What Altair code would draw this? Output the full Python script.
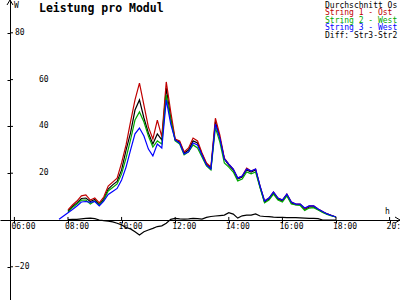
import altair as alt
import pandas as pd

times = ["07:40", "07:50",
         "08:00", "08:10", "08:20", "08:30", "08:40", "08:50",
         "09:00", "09:10", "09:20", "09:30", "09:40", "09:50",
         "10:00", "10:10", "10:20", "10:30", "10:40", "10:50",
         "11:00", "11:10", "11:20", "11:30", "11:40", "11:50",
         "12:00", "12:10", "12:20", "12:30", "12:40", "12:50",
         "13:00", "13:10", "13:20", "13:30", "13:40", "13:50",
         "14:00", "14:10", "14:20", "14:30", "14:40", "14:50",
         "15:00", "15:10", "15:20", "15:30", "15:40", "15:50",
         "16:00", "16:10", "16:20", "16:30", "16:40", "16:50",
         "17:00", "17:10", "17:20", "17:30", "17:40", "17:50",
         "18:00"]

avg = [None, None, 3.8, 5.8, 7.3, 9.2, 9.4, 7.9, 8.8, 6.6, 9.0, 13.2, 15.0, 16.5,
       21.4, 29.9, 37.2, 47.0, 51.3, 43.6, 37.2, 32.5, 36.8, 34.2, 56.4, 43.6,
       34.2, 33.3, 28.6, 29.9, 33.8, 32.9, 28.2, 23.9, 22.2, 42.0, 35.0, 26.1,
       23.5, 21.4, 17.5, 18.4, 21.4, 20.5, 21.4, 14.1, 7.7, 9.0, 11.5, 9.0,
       8.1, 10.7, 7.3, 6.6, 6.6, 4.5, 5.6, 5.6, 4.5, 3.4, 2.6, 1.9, 1.3]

string1 = [None, None, 4.3, 6.4, 8.1, 10.3, 10.7, 8.5, 9.4, 7.3, 9.8, 14.5, 16.2, 17.9,
           24.4, 32.1, 41.9, 51.3, 58.5, 49.1, 39.7, 34.6, 42.7, 35.6, 59.0, 46.2,
           34.6, 33.8, 29.1, 30.8, 35.0, 33.8, 28.6, 24.4, 22.6, 43.5, 36.3, 26.5,
           23.9, 21.8, 17.9, 18.8, 22.2, 20.9, 21.8, 14.5, 8.1, 9.4, 12.0, 9.4,
           8.5, 11.1, 7.7, 6.8, 6.8, 4.7, 6.0, 6.0, 4.7, 3.6, 2.6, 1.9, 1.3]

string2 = [None, None, 3.4, 5.3, 6.8, 8.5, 8.5, 6.8, 8.1, 6.4, 8.5, 12.4, 13.9, 15.4,
           19.7, 26.5, 34.2, 42.7, 46.2, 41.9, 35.9, 31.2, 33.8, 32.5, 53.4, 42.7,
           33.8, 32.5, 27.8, 29.1, 32.1, 30.8, 26.9, 23.1, 21.4, 39.5, 33.3, 24.4,
           22.6, 20.5, 16.7, 17.5, 20.5, 19.7, 20.5, 13.7, 7.3, 8.5, 11.1, 8.5,
           7.7, 10.3, 6.8, 6.4, 6.2, 4.1, 5.1, 5.3, 4.3, 3.2, 2.4, 1.7, 1.3]

string3 = [0.3, 1.7, 3.1, 4.5, 6.0, 7.7, 7.9, 7.5, 7.9, 6.0, 8.1, 10.9, 12.2, 13.5,
           17.1, 22.6, 29.9, 36.8, 39.3, 35.9, 30.3, 27.4, 32.5, 30.8, 51.3, 41.0,
           34.2, 32.9, 28.2, 29.1, 32.9, 32.1, 27.8, 23.5, 21.8, 41.0, 35.0, 26.1,
           23.9, 21.8, 17.9, 18.8, 21.8, 20.9, 21.8, 14.5, 8.1, 9.4, 12.0, 9.4,
           8.5, 11.1, 7.7, 6.8, 6.8, 5.1, 6.0, 6.0, 4.7, 3.6, 2.6, 1.9, 1.3]

diff = [None, None, 0.2, 0.3, 0.3, 0.5, 0.7, 0.8, 0.6, 0.0, -0.3, -0.5, -0.8, -1.4,
        -2.1, -3.2, -3.8, -5.0, -6.4, -5.0, -4.3, -3.6, -2.8, -2.5, -1.4, 0.3,
        0.7, 0.5, 0.4, 0.5, 0.7, 0.6, 0.4, 1.1, 1.5, 1.7, 1.9, 2.1,
        3.1, 2.5, 0.8, 1.8, 2.1, 2.1, 2.6, 1.7, 1.5, 1.4, 1.2, 1.1,
        1.1, 1.0, 1.0, 1.0, 0.9, 0.8, 0.7, 0.7, 0.6, 0.0, 0.0, 0.0, 0.0]

series_names = ["Durchschnitt Os", "String 1 - Ost", "String 2 - West",
                "String 3 - West", "Diff: Str3-Str2"]
series_colors = ["#000000", "#c00000", "#00a800", "#0000ff", "#000000"]

x_tick_labels = ["06:00", "08:00", "10:00", "12:00", "14:00", "16:00", "18:00", "20:00"]
y_tick_near = [80, -20]
y_tick_far = [60, 40, 20]

title_text = "Leistung pro Modul"
FONT = "DejaVu Sans Mono"


def hours(s):
    h, m = s.split(":")
    return int(h) + int(m) / 60.0


rows = []
for order, (name, vals) in enumerate(zip(series_names, [avg, string1, string2, string3, diff])):
    for t, v in zip(times, vals):
        if v is not None:
            rows.append({"t": hours(t), "v": v, "series": name, "o": order})
df = pd.DataFrame(rows)

tick_hours = [hours(s) for s in x_tick_labels]
xs = alt.Scale(domain=[5.463, 20.388], nice=False, zero=False)
ys = alt.Scale(domain=[-34.19, 94.02], nice=False, zero=False)

axis_common = dict(grid=False, title=None, labels=False, domainColor="black",
                   tickColor="black", domainWidth=1, tickWidth=1, tickSize=3)

lines = alt.Chart(df).mark_line(strokeWidth=1.2).encode(
    x=alt.X("t:Q", scale=xs, axis=alt.Axis(orient="bottom", offset=-80,
                                           values=tick_hours, **axis_common)),
    y=alt.Y("v:Q", scale=ys, axis=alt.Axis(orient="left", offset=-10,
                                           values=y_tick_near + y_tick_far, **axis_common)),
    color=alt.Color("series:N", scale=alt.Scale(domain=series_names, range=series_colors),
                    legend=None),
    detail="o:N",
)

# upper halves of the x ticks and right halves of the y ticks (crossing ticks)
xl_df = pd.DataFrame({"lab": x_tick_labels, "t": tick_hours})
xtick_up = alt.Chart(xl_df).mark_rule(color="black", strokeWidth=1).encode(
    x=alt.X("t:Q", scale=xs), y=alt.datum(0, scale=ys), y2=alt.datum(1.3)
)
yt_df = pd.DataFrame({"v": y_tick_near + y_tick_far})
ytick_right = alt.Chart(yt_df).mark_rule(color="black", strokeWidth=1).encode(
    y=alt.Y("v:Q", scale=ys), x=alt.value(10), x2=alt.value(13)
)

xlabels = alt.Chart(xl_df).mark_text(
    align="left", baseline="alphabetic", dx=-3, dy=9, font=FONT, fontSize=8, color="black"
).encode(
    x=alt.X("t:Q", scale=xs),
    y=alt.datum(0, scale=ys),
    text="lab:N",
)

yl_near = alt.Chart(pd.DataFrame({"v": y_tick_near})).mark_text(
    align="left", baseline="middle", font=FONT, fontSize=8, color="black"
).encode(
    x=alt.value(15),
    y=alt.Y("v:Q", scale=ys),
    text=alt.Text("v:Q", format="d"),
)

yl_far = alt.Chart(pd.DataFrame({"v": y_tick_far})).mark_text(
    align="left", baseline="middle", font=FONT, fontSize=8, color="black"
).encode(
    x=alt.value(39),
    y=alt.Y("v:Q", scale=ys),
    text=alt.Text("v:Q", format="d"),
)

title = alt.Chart(pd.DataFrame({"s": [title_text]})).mark_text(
    align="left", baseline="alphabetic", font=FONT, fontSize=11.5, fontWeight="bold",
    color="black"
).encode(x=alt.value(39), y=alt.value(12), text="s:N")

unit_w = alt.Chart(pd.DataFrame({"s": ["W"]})).mark_text(
    align="left", baseline="alphabetic", font=FONT, fontSize=8, color="black"
).encode(x=alt.value(14), y=alt.value(8), text="s:N")

unit_h = alt.Chart(pd.DataFrame({"s": ["h"]})).mark_text(
    align="left", baseline="alphabetic", font=FONT, fontSize=8, color="black"
).encode(x=alt.value(385), y=alt.value(214), text="s:N")

arrow_parts = []
for (x1, y1, x2, y2) in [(7, 5, 10, 0), (13, 5, 10, 0), (395, 217, 400, 220), (395, 223, 400, 220)]:
    arrow_parts.append(
        alt.Chart(pd.DataFrame({"a": [0]})).mark_rule(color="black", strokeWidth=1).encode(
            x=alt.value(x1), y=alt.value(y1), x2=alt.value(x2), y2=alt.value(y2))
    )

legend_parts = []
for i, (name, col) in enumerate(zip(series_names, series_colors)):
    legend_parts.append(
        alt.Chart(pd.DataFrame({"s": [name]})).mark_text(
            align="left", baseline="alphabetic", font=FONT, fontSize=8, color=col
        ).encode(x=alt.value(325), y=alt.value(7.5 + 7.5 * i), text="s:N")
    )

chart = alt.layer(lines, xtick_up, ytick_right, xlabels, yl_near, yl_far, title, unit_w,
                  unit_h, *arrow_parts, *legend_parts).properties(
    width=400, height=300, padding=0,
    autosize=alt.AutoSizeParams(type="none"),
    background="white",
).configure_view(stroke=None)

chart.save("out.html", embed_options={"renderer": "svg", "actions": False})
